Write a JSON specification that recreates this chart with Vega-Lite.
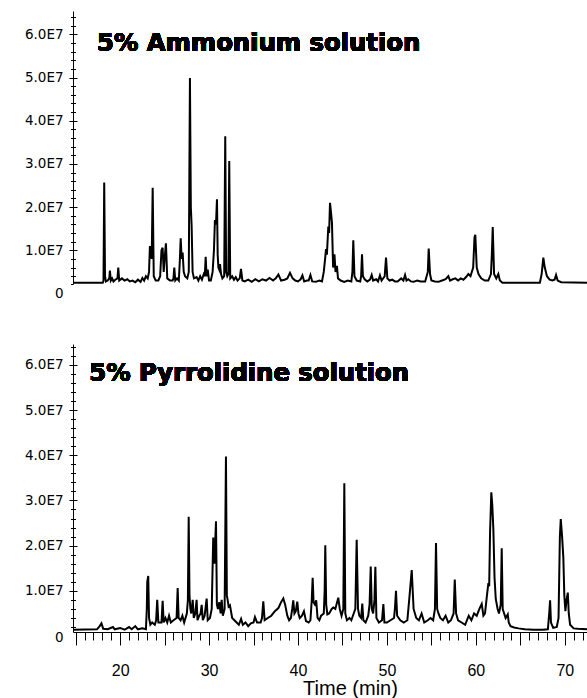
{
  "$schema": "https://vega.github.io/schema/vega-lite/v6.json",
  "padding": {"left": 24, "top": 10, "right": 0, "bottom": 0},
  "background": "white",
  "config": {
    "view": {"stroke": null},
    "axis": {"domainColor": "black", "tickColor": "black", "labelColor": "black", "titleColor": "black", "grid": false, "labelFlush": false, "labelOverlap": false}
  },
  "datasets": {
    "amm": [
      {"t":14.7,"v":0.25e7},{"t":18.05,"v":0.25e7},{"t":18.13,"v":0.3e7},{"t":18.21,"v":2.57e7},{"t":18.3,"v":0.4e7},{"t":18.4,"v":0.28e7},{"t":18.6,"v":0.3e7},{"t":18.78,"v":0.35e7},{"t":18.85,"v":0.53e7},{"t":18.95,"v":0.3e7},{"t":19.1,"v":0.35e7},{"t":19.25,"v":0.28e7},{"t":19.45,"v":0.32e7},{"t":19.7,"v":0.35e7},{"t":19.79,"v":0.6e7},{"t":19.9,"v":0.3e7},{"t":20.2,"v":0.35e7},{"t":20.5,"v":0.3e7},{"t":20.8,"v":0.33e7},{"t":21.1,"v":0.28e7},{"t":21.4,"v":0.3e7},{"t":21.7,"v":0.26e7},{"t":22.0,"v":0.32e7},{"t":22.3,"v":0.27e7},{"t":22.5,"v":0.36e7},{"t":22.7,"v":0.3e7},{"t":22.9,"v":0.4e7},{"t":23.1,"v":0.35e7},{"t":23.25,"v":0.5e7},{"t":23.35,"v":1.1e7},{"t":23.45,"v":1.0e7},{"t":23.55,"v":0.8e7},{"t":23.66,"v":2.45e7},{"t":23.78,"v":0.4e7},{"t":24.0,"v":0.3e7},{"t":24.3,"v":0.3e7},{"t":24.5,"v":0.4e7},{"t":24.65,"v":1.0e7},{"t":24.78,"v":1.06e7},{"t":24.9,"v":0.5e7},{"t":25.0,"v":0.8e7},{"t":25.15,"v":1.16e7},{"t":25.3,"v":0.35e7},{"t":25.6,"v":0.3e7},{"t":25.9,"v":0.3e7},{"t":26.0,"v":0.35e7},{"t":26.09,"v":0.6e7},{"t":26.2,"v":0.3e7},{"t":26.4,"v":0.35e7},{"t":26.6,"v":0.3e7},{"t":26.7,"v":0.7e7},{"t":26.81,"v":1.28e7},{"t":26.92,"v":0.8e7},{"t":27.03,"v":0.95e7},{"t":27.15,"v":0.5e7},{"t":27.3,"v":0.4e7},{"t":27.55,"v":0.35e7},{"t":27.72,"v":0.5e7},{"t":27.85,"v":4.99e7},{"t":27.95,"v":2.0e7},{"t":28.04,"v":1.57e7},{"t":28.15,"v":0.5e7},{"t":28.3,"v":0.35e7},{"t":28.6,"v":0.38e7},{"t":28.8,"v":0.3e7},{"t":29.0,"v":0.4e7},{"t":29.2,"v":0.32e7},{"t":29.4,"v":0.45e7},{"t":29.52,"v":0.4e7},{"t":29.62,"v":0.85e7},{"t":29.72,"v":0.4e7},{"t":29.85,"v":0.55e7},{"t":30.0,"v":0.3e7},{"t":30.2,"v":0.3e7},{"t":30.4,"v":0.5e7},{"t":30.55,"v":1.0e7},{"t":30.66,"v":1.7e7},{"t":30.78,"v":1.6e7},{"t":30.89,"v":2.18e7},{"t":30.97,"v":0.9e7},{"t":31.05,"v":0.6e7},{"t":31.15,"v":0.55e7},{"t":31.23,"v":0.68e7},{"t":31.35,"v":0.45e7},{"t":31.5,"v":0.35e7},{"t":31.7,"v":0.4e7},{"t":31.82,"v":3.64e7},{"t":31.92,"v":0.5e7},{"t":32.05,"v":0.4e7},{"t":32.17,"v":0.45e7},{"t":32.27,"v":3.07e7},{"t":32.38,"v":0.35e7},{"t":32.6,"v":0.4e7},{"t":32.8,"v":0.32e7},{"t":33.0,"v":0.38e7},{"t":33.2,"v":0.3e7},{"t":33.45,"v":0.35e7},{"t":33.59,"v":0.57e7},{"t":33.75,"v":0.3e7},{"t":34.0,"v":0.28e7},{"t":34.4,"v":0.32e7},{"t":34.8,"v":0.27e7},{"t":35.2,"v":0.33e7},{"t":35.6,"v":0.28e7},{"t":36.0,"v":0.33e7},{"t":36.4,"v":0.3e7},{"t":36.8,"v":0.36e7},{"t":37.2,"v":0.3e7},{"t":37.5,"v":0.35e7},{"t":37.8,"v":0.44e7},{"t":38.1,"v":0.3e7},{"t":38.5,"v":0.32e7},{"t":38.8,"v":0.35e7},{"t":39.1,"v":0.48e7},{"t":39.4,"v":0.35e7},{"t":39.7,"v":0.3e7},{"t":40.0,"v":0.28e7},{"t":40.3,"v":0.33e7},{"t":40.5,"v":0.42e7},{"t":40.7,"v":0.28e7},{"t":41.0,"v":0.3e7},{"t":41.2,"v":0.3e7},{"t":41.4,"v":0.43e7},{"t":41.6,"v":0.28e7},{"t":42.0,"v":0.27e7},{"t":42.4,"v":0.3e7},{"t":42.7,"v":0.28e7},{"t":42.9,"v":0.5e7},{"t":43.05,"v":0.8e7},{"t":43.15,"v":1.03e7},{"t":43.25,"v":0.9e7},{"t":43.41,"v":1.55e7},{"t":43.5,"v":1.4e7},{"t":43.6,"v":2.1e7},{"t":43.7,"v":1.9e7},{"t":43.82,"v":1.64e7},{"t":43.95,"v":0.6e7},{"t":44.1,"v":0.91e7},{"t":44.22,"v":0.5e7},{"t":44.38,"v":0.64e7},{"t":44.5,"v":0.35e7},{"t":44.8,"v":0.3e7},{"t":45.2,"v":0.27e7},{"t":45.6,"v":0.3e7},{"t":46.0,"v":0.28e7},{"t":46.12,"v":0.5e7},{"t":46.22,"v":1.23e7},{"t":46.35,"v":0.4e7},{"t":46.6,"v":0.3e7},{"t":47.0,"v":0.28e7},{"t":47.1,"v":0.4e7},{"t":47.2,"v":0.91e7},{"t":47.3,"v":0.4e7},{"t":47.5,"v":0.33e7},{"t":47.8,"v":0.28e7},{"t":48.1,"v":0.32e7},{"t":48.29,"v":0.43e7},{"t":48.45,"v":0.3e7},{"t":48.8,"v":0.33e7},{"t":49.0,"v":0.28e7},{"t":49.22,"v":0.42e7},{"t":49.4,"v":0.3e7},{"t":49.75,"v":0.4e7},{"t":49.9,"v":0.83e7},{"t":50.05,"v":0.35e7},{"t":50.3,"v":0.3e7},{"t":50.6,"v":0.32e7},{"t":50.9,"v":0.28e7},{"t":51.2,"v":0.28e7},{"t":51.6,"v":0.35e7},{"t":51.85,"v":0.3e7},{"t":52.04,"v":0.43e7},{"t":52.2,"v":0.3e7},{"t":52.4,"v":0.33e7},{"t":52.7,"v":0.28e7},{"t":53.0,"v":0.27e7},{"t":53.4,"v":0.3e7},{"t":53.8,"v":0.28e7},{"t":54.3,"v":0.28e7},{"t":54.6,"v":0.5e7},{"t":54.7,"v":1.04e7},{"t":54.85,"v":0.45e7},{"t":55.0,"v":0.3e7},{"t":55.4,"v":0.28e7},{"t":55.8,"v":0.27e7},{"t":56.2,"v":0.3e7},{"t":56.6,"v":0.33e7},{"t":56.91,"v":0.4e7},{"t":57.1,"v":0.3e7},{"t":57.4,"v":0.33e7},{"t":57.7,"v":0.35e7},{"t":58.0,"v":0.3e7},{"t":58.3,"v":0.35e7},{"t":58.6,"v":0.32e7},{"t":58.9,"v":0.38e7},{"t":59.16,"v":0.45e7},{"t":59.4,"v":0.4e7},{"t":59.7,"v":0.6e7},{"t":59.85,"v":1.3e7},{"t":59.94,"v":1.36e7},{"t":60.1,"v":0.6e7},{"t":60.3,"v":0.45e7},{"t":60.6,"v":0.35e7},{"t":61.0,"v":0.3e7},{"t":61.4,"v":0.3e7},{"t":61.7,"v":0.45e7},{"t":61.8,"v":0.9e7},{"t":61.9,"v":1.54e7},{"t":62.05,"v":0.45e7},{"t":62.3,"v":0.35e7},{"t":62.53,"v":0.45e7},{"t":62.7,"v":0.3e7},{"t":63.0,"v":0.25e7},{"t":67.2,"v":0.25e7},{"t":67.4,"v":0.45e7},{"t":67.59,"v":0.83e7},{"t":67.75,"v":0.6e7},{"t":68.0,"v":0.4e7},{"t":68.3,"v":0.32e7},{"t":68.6,"v":0.3e7},{"t":68.85,"v":0.32e7},{"t":69.02,"v":0.43e7},{"t":69.2,"v":0.3e7},{"t":69.6,"v":0.26e7},{"t":72.5,"v":0.25e7}
    ],
    "pyr": [
      {"t":14.7,"v":0.14e7},{"t":17.4,"v":0.15e7},{"t":17.7,"v":0.22e7},{"t":17.9,"v":0.28e7},{"t":18.1,"v":0.16e7},{"t":18.6,"v":0.15e7},{"t":19.2,"v":0.2e7},{"t":19.4,"v":0.15e7},{"t":20.0,"v":0.18e7},{"t":20.5,"v":0.14e7},{"t":21.0,"v":0.2e7},{"t":21.3,"v":0.15e7},{"t":21.7,"v":0.22e7},{"t":22.0,"v":0.15e7},{"t":22.5,"v":0.17e7},{"t":22.9,"v":0.15e7},{"t":23.0,"v":0.6e7},{"t":23.05,"v":1.2e7},{"t":23.16,"v":1.33e7},{"t":23.25,"v":0.4e7},{"t":23.4,"v":0.25e7},{"t":23.6,"v":0.3e7},{"t":23.9,"v":0.25e7},{"t":24.05,"v":0.35e7},{"t":24.17,"v":0.8e7},{"t":24.3,"v":0.3e7},{"t":24.65,"v":0.3e7},{"t":24.78,"v":0.78e7},{"t":24.9,"v":0.3e7},{"t":25.1,"v":0.4e7},{"t":25.3,"v":0.3e7},{"t":25.5,"v":0.45e7},{"t":25.7,"v":0.3e7},{"t":26.0,"v":0.35e7},{"t":26.35,"v":0.4e7},{"t":26.47,"v":1.06e7},{"t":26.58,"v":0.4e7},{"t":26.8,"v":0.35e7},{"t":27.0,"v":0.45e7},{"t":27.2,"v":0.3e7},{"t":27.5,"v":0.5e7},{"t":27.62,"v":0.8e7},{"t":27.71,"v":2.64e7},{"t":27.8,"v":0.9e7},{"t":27.9,"v":0.6e7},{"t":28.0,"v":0.5e7},{"t":28.16,"v":0.8e7},{"t":28.28,"v":0.4e7},{"t":28.45,"v":0.5e7},{"t":28.6,"v":0.8e7},{"t":28.7,"v":0.35e7},{"t":28.9,"v":0.45e7},{"t":29.05,"v":0.5e7},{"t":29.17,"v":0.69e7},{"t":29.3,"v":0.35e7},{"t":29.5,"v":0.45e7},{"t":29.73,"v":0.83e7},{"t":29.85,"v":0.35e7},{"t":30.1,"v":0.4e7},{"t":30.3,"v":0.6e7},{"t":30.47,"v":2.18e7},{"t":30.6,"v":1.6e7},{"t":30.78,"v":2.54e7},{"t":30.88,"v":0.7e7},{"t":31.0,"v":0.6e7},{"t":31.15,"v":0.75e7},{"t":31.3,"v":0.5e7},{"t":31.42,"v":0.8e7},{"t":31.55,"v":0.45e7},{"t":31.75,"v":0.6e7},{"t":31.9,"v":3.97e7},{"t":32.0,"v":0.9e7},{"t":32.09,"v":0.8e7},{"t":32.2,"v":0.65e7},{"t":32.35,"v":0.68e7},{"t":32.6,"v":0.4e7},{"t":32.85,"v":0.35e7},{"t":33.1,"v":0.3e7},{"t":33.35,"v":0.25e7},{"t":33.6,"v":0.38e7},{"t":33.8,"v":0.25e7},{"t":34.1,"v":0.3e7},{"t":34.4,"v":0.22e7},{"t":34.7,"v":0.28e7},{"t":35.0,"v":0.3e7},{"t":35.16,"v":0.42e7},{"t":35.4,"v":0.3e7},{"t":35.8,"v":0.3e7},{"t":35.95,"v":0.4e7},{"t":36.1,"v":0.77e7},{"t":36.25,"v":0.35e7},{"t":36.6,"v":0.4e7},{"t":37.0,"v":0.45e7},{"t":37.4,"v":0.55e7},{"t":37.8,"v":0.62e7},{"t":38.1,"v":0.75e7},{"t":38.35,"v":0.83e7},{"t":38.55,"v":0.7e7},{"t":38.8,"v":0.45e7},{"t":39.0,"v":0.35e7},{"t":39.2,"v":0.4e7},{"t":39.35,"v":0.6e7},{"t":39.47,"v":0.79e7},{"t":39.6,"v":0.5e7},{"t":39.75,"v":0.55e7},{"t":39.92,"v":0.76e7},{"t":40.05,"v":0.5e7},{"t":40.2,"v":0.4e7},{"t":40.45,"v":0.45e7},{"t":40.67,"v":0.55e7},{"t":40.9,"v":0.33e7},{"t":41.2,"v":0.3e7},{"t":41.4,"v":0.35e7},{"t":41.55,"v":0.8e7},{"t":41.65,"v":1.29e7},{"t":41.75,"v":0.75e7},{"t":41.9,"v":0.7e7},{"t":42.05,"v":0.79e7},{"t":42.2,"v":0.4e7},{"t":42.4,"v":0.35e7},{"t":42.6,"v":0.45e7},{"t":42.9,"v":0.5e7},{"t":43.0,"v":1.0e7},{"t":43.07,"v":2.01e7},{"t":43.17,"v":0.7e7},{"t":43.3,"v":0.48e7},{"t":43.5,"v":0.5e7},{"t":43.79,"v":0.6e7},{"t":43.97,"v":0.63e7},{"t":44.2,"v":0.6e7},{"t":44.53,"v":0.85e7},{"t":44.7,"v":0.6e7},{"t":44.9,"v":0.45e7},{"t":45.1,"v":0.6e7},{"t":45.21,"v":3.38e7},{"t":45.32,"v":0.5e7},{"t":45.5,"v":0.35e7},{"t":45.8,"v":0.4e7},{"t":46.0,"v":0.35e7},{"t":46.45,"v":0.6e7},{"t":46.6,"v":2.13e7},{"t":46.75,"v":0.6e7},{"t":46.9,"v":0.45e7},{"t":47.1,"v":0.4e7},{"t":47.23,"v":0.72e7},{"t":47.35,"v":0.35e7},{"t":47.6,"v":0.3e7},{"t":47.9,"v":0.45e7},{"t":48.05,"v":0.7e7},{"t":48.18,"v":1.54e7},{"t":48.3,"v":0.6e7},{"t":48.45,"v":0.5e7},{"t":48.6,"v":0.8e7},{"t":48.7,"v":1.53e7},{"t":48.82,"v":0.4e7},{"t":49.1,"v":0.3e7},{"t":49.45,"v":0.35e7},{"t":49.6,"v":0.71e7},{"t":49.72,"v":0.3e7},{"t":50.0,"v":0.3e7},{"t":50.4,"v":0.35e7},{"t":50.8,"v":0.4e7},{"t":50.9,"v":0.6e7},{"t":51.02,"v":1.0e7},{"t":51.15,"v":0.45e7},{"t":51.5,"v":0.35e7},{"t":51.9,"v":0.3e7},{"t":52.3,"v":0.35e7},{"t":52.55,"v":0.9e7},{"t":52.79,"v":1.46e7},{"t":53.0,"v":0.6e7},{"t":53.3,"v":0.4e7},{"t":53.6,"v":0.35e7},{"t":53.9,"v":0.5e7},{"t":54.2,"v":0.3e7},{"t":54.6,"v":0.35e7},{"t":54.9,"v":0.4e7},{"t":55.2,"v":0.35e7},{"t":55.4,"v":0.6e7},{"t":55.52,"v":2.06e7},{"t":55.65,"v":0.6e7},{"t":55.8,"v":0.5e7},{"t":56.0,"v":0.4e7},{"t":56.3,"v":0.35e7},{"t":56.6,"v":0.45e7},{"t":56.9,"v":0.3e7},{"t":57.2,"v":0.35e7},{"t":57.5,"v":0.5e7},{"t":57.63,"v":1.25e7},{"t":57.78,"v":0.5e7},{"t":58.0,"v":0.35e7},{"t":58.4,"v":0.3e7},{"t":58.8,"v":0.25e7},{"t":59.2,"v":0.45e7},{"t":59.5,"v":0.35e7},{"t":59.8,"v":0.5e7},{"t":60.1,"v":0.45e7},{"t":60.4,"v":0.6e7},{"t":60.66,"v":0.71e7},{"t":60.85,"v":0.45e7},{"t":61.03,"v":0.5e7},{"t":61.25,"v":0.9e7},{"t":61.41,"v":1.17e7},{"t":61.5,"v":1.1e7},{"t":61.6,"v":2.3e7},{"t":61.74,"v":3.18e7},{"t":61.85,"v":2.9e7},{"t":61.97,"v":2.36e7},{"t":62.1,"v":1.3e7},{"t":62.24,"v":0.82e7},{"t":62.45,"v":0.6e7},{"t":62.6,"v":0.5e7},{"t":62.8,"v":0.7e7},{"t":62.91,"v":1.94e7},{"t":63.02,"v":0.6e7},{"t":63.1,"v":0.55e7},{"t":63.35,"v":0.4e7},{"t":63.59,"v":0.48e7},{"t":63.7,"v":0.3e7},{"t":63.9,"v":0.22e7},{"t":64.3,"v":0.19e7},{"t":64.8,"v":0.17e7},{"t":65.5,"v":0.15e7},{"t":66.5,"v":0.14e7},{"t":67.5,"v":0.14e7},{"t":68.1,"v":0.15e7},{"t":68.25,"v":0.5e7},{"t":68.35,"v":0.79e7},{"t":68.45,"v":0.3e7},{"t":68.7,"v":0.18e7},{"t":69.1,"v":0.2e7},{"t":69.3,"v":0.4e7},{"t":69.45,"v":2.2e7},{"t":69.55,"v":2.59e7},{"t":69.7,"v":2.2e7},{"t":69.84,"v":1.73e7},{"t":69.95,"v":0.9e7},{"t":70.07,"v":0.55e7},{"t":70.2,"v":0.8e7},{"t":70.34,"v":0.96e7},{"t":70.45,"v":0.5e7},{"t":70.6,"v":0.25e7},{"t":71.0,"v":0.17e7},{"t":71.5,"v":0.16e7},{"t":72.5,"v":0.15e7}
    ]
  },
  "spacing": 60,
  "bounds": "flush",
  "vconcat": [
    {
      "width": 514,
      "height": 273,
      "data": {"name": "amm"},
      "resolve": {"axis": {"y": "independent"}},
      "layer": [
        {
          "mark": {"type": "line", "color": "black", "strokeWidth": 2, "clip": true},
          "encoding": {
            "x": {"field": "t", "type": "quantitative", "scale": {"domain": [14.7, 72.5], "nice": false, "zero": false},
                  "axis": {"orient": "bottom", "ticks": false, "labels": false, "title": null, "domain": true, "domainWidth": 1}},
            "y": {"field": "v", "type": "quantitative", "scale": {"domain": [2200000, 65400000], "nice": false, "zero": false},
                  "axis": {"orient": "left",
                           "values": [2200000, 4000000, 6000000, 8000000, 10000000, 12000000, 14000000, 16000000, 18000000, 20000000, 22000000, 24000000, 26000000, 28000000, 30000000, 32000000, 34000000, 36000000, 38000000, 40000000, 42000000, 44000000, 46000000, 48000000, 50000000, 52000000, 54000000, 56000000, 58000000, 60000000, 62000000, 64000000],
                           "domain": true, "domainWidth": 1, "title": null,
                           "ticks": true, "tickWidth": 1, "tickSize": 4,
                           "tickDash": {"condition": {"test": "datum.value % 10000000 !== 0", "value": [2.5, 100]}, "value": [100, 1]},
                           "labelExpr": "datum.value < 3000000 ? '0' : (datum.value % 10000000 === 0 ? format(datum.value / 10000000, '.1f') + 'E7' : '')",
                           "labelFont": "DejaVu Sans", "labelFontSize": 13.5, "labelPadding": 6,
                           "labelOffset": {"condition": {"test": "datum.value < 3000000", "value": 9}, "value": 0}}}
          }
        },
        {
          "mark": {"type": "line", "strokeOpacity": 0},
          "encoding": {
            "x": {"field": "t", "type": "quantitative", "axis": null},
            "y": {"field": "v", "type": "quantitative",
                  "axis": {"orient": "left",
                           "values": [4000000, 6000000, 8000000, 10000000, 12000000, 14000000, 16000000, 18000000, 20000000, 22000000, 24000000, 26000000, 28000000, 30000000, 32000000, 34000000, 36000000, 38000000, 40000000, 42000000, 44000000, 46000000, 48000000, 50000000, 52000000, 54000000, 56000000, 58000000, 60000000, 62000000, 64000000],
                           "domain": false, "labels": false, "title": null,
                           "ticks": true, "tickWidth": 1, "tickSize": -4,
                           "tickDash": {"condition": {"test": "datum.value % 10000000 !== 0", "value": [2.5, 100]}, "value": [100, 1]}}}
          }
        },
        {
          "mark": {"type": "text", "align": "left", "baseline": "alphabetic", "font": "DejaVu Sans", "fontWeight": "bold", "fontSize": 24.3, "color": "black"},
          "encoding": {
            "x": {"datum": 17.4, "type": "quantitative", "axis": null},
            "y": {"datum": 56140000, "type": "quantitative", "axis": null},
            "text": {"value": "5% Ammonium solution"}
          }
        }
      ]
    },
    {
      "width": 514,
      "height": 288,
      "data": {"name": "pyr"},
      "resolve": {"axis": {"x": "independent", "y": "independent"}},
      "layer": [
        {
          "mark": {"type": "line", "color": "black", "strokeWidth": 2, "clip": true},
          "encoding": {
            "x": {"field": "t", "type": "quantitative", "scale": {"domain": [14.7, 72.5], "nice": false, "zero": false},
                  "axis": {"orient": "bottom", "values": [15, 20, 25, 30, 35, 40, 45, 50, 55, 60, 65, 70],
                           "tickSize": 13, "tickWidth": 1, "domain": true, "domainWidth": 1,
                           "labelExpr": "datum.value % 10 === 0 ? datum.label : ''",
                           "labelFont": "Liberation Sans", "labelFontSize": 16, "labelPadding": 17,
                           "title": "Time (min)", "titleFont": "Liberation Sans", "titleFontSize": 20, "titleFontWeight": "normal",
                           "titleBaseline": "alphabetic", "titleX": 277, "titleY": 62.5}},
            "y": {"field": "v", "type": "quantitative", "scale": {"domain": [900000, 64600000], "nice": false, "zero": false},
                  "axis": {"orient": "left",
                           "values": [900000, 2000000, 4000000, 6000000, 8000000, 10000000, 12000000, 14000000, 16000000, 18000000, 20000000, 22000000, 24000000, 26000000, 28000000, 30000000, 32000000, 34000000, 36000000, 38000000, 40000000, 42000000, 44000000, 46000000, 48000000, 50000000, 52000000, 54000000, 56000000, 58000000, 60000000, 62000000, 64000000],
                           "domain": true, "domainWidth": 1, "title": null,
                           "ticks": true, "tickWidth": 1, "tickSize": 4,
                           "tickDash": {"condition": {"test": "datum.value % 10000000 !== 0", "value": [2.5, 100]}, "value": [100, 1]},
                           "tickOpacity": {"condition": {"test": "datum.value < 1000000", "value": 0}, "value": 1},
                           "labelExpr": "datum.value < 1000000 ? '0' : (datum.value % 10000000 === 0 ? format(datum.value / 10000000, '.1f') + 'E7' : '')",
                           "labelFont": "DejaVu Sans", "labelFontSize": 13.5, "labelPadding": 6,
                           "labelOffset": {"condition": {"test": "datum.value < 1000000", "value": 5}, "value": 0}}}
          }
        },
        {
          "mark": {"type": "line", "strokeOpacity": 0},
          "encoding": {
            "x": {"field": "t", "type": "quantitative",
                  "axis": {"orient": "bottom", "tickCount": 58,
                           "tickSize": 8, "tickWidth": 1, "labels": false, "domain": false, "title": null}},
            "y": {"field": "v", "type": "quantitative",
                  "axis": {"orient": "left",
                           "values": [2000000, 4000000, 6000000, 8000000, 10000000, 12000000, 14000000, 16000000, 18000000, 20000000, 22000000, 24000000, 26000000, 28000000, 30000000, 32000000, 34000000, 36000000, 38000000, 40000000, 42000000, 44000000, 46000000, 48000000, 50000000, 52000000, 54000000, 56000000, 58000000, 60000000, 62000000, 64000000],
                           "domain": false, "labels": false, "title": null,
                           "ticks": true, "tickWidth": 1, "tickSize": -4,
                           "tickDash": {"condition": {"test": "datum.value % 10000000 !== 0", "value": [2.5, 100]}, "value": [100, 1]}}}
          }
        },
        {
          "mark": {"type": "text", "align": "left", "baseline": "alphabetic", "font": "DejaVu Sans", "fontWeight": "bold", "fontSize": 24.3, "color": "black"},
          "encoding": {
            "x": {"datum": 16.53, "type": "quantitative", "axis": null},
            "y": {"datum": 56400000, "type": "quantitative", "axis": null},
            "text": {"value": "5% Pyrrolidine solution"}
          }
        }
      ]
    }
  ]
}
